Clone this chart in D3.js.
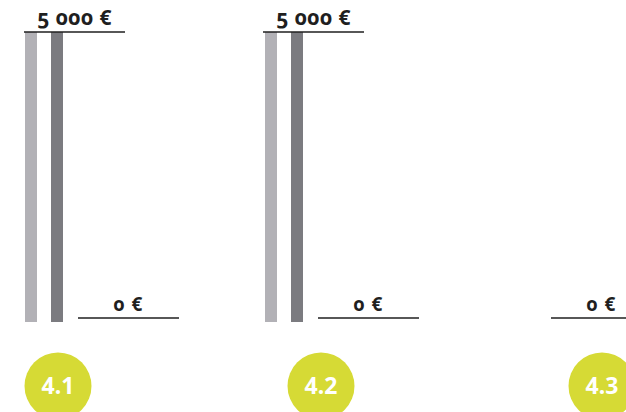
<!DOCTYPE html>
<html>
<head>
<meta charset="utf-8">
<script src="https://cdn.jsdelivr.net/npm/d3@7"></script>
<style>
  html, body { margin: 0; padding: 0; background: #ffffff; }
  svg { display: block; }
  text { font-family: "Noto Sans", "Open Sans", sans-serif; }
  text.tick { font-variant-numeric: oldstyle-nums; font-feature-settings: "onum" 1; }
  text.badge { font-variant-numeric: lining-nums; font-feature-settings: "lnum" 1; }
</style>
</head>
<body>
<svg id="chart" width="626" height="412"></svg>
<script>
// ---- data ----
const panels = ["4.1", "4.2", "4.3"];
const seriesNames = ["light", "dark"];
const lightValues = [5000, 5000, null];
const darkValues = [5000, 5000, null];
const showMaxTick = [true, true, false];
const tickValues = [0, 5000];
const tickLabels = ["0 €", "5 000 €"];

// ---- layout ----
const barLeft = [25, 265, null];
const topLineLeft = [24, 263, null];
const zeroLineLeft = [78, 318, 551];
const badgeCx = [58, 321, 602];
const lineLen = 101;
const colors = { light: "#b2b1b6", dark: "#7b7b80" };
const ink = "#1f1f1f";
const badgeColor = "#d6da35";

const svg = d3.select("#chart");
const y = d3.scaleLinear().domain([0, 5000]).range([318, 32]);

panels.forEach((p, i) => {
  const g = svg.append("g");
  const vals = { light: lightValues[i], dark: darkValues[i] };

  if (barLeft[i] !== null) {
    const x = d3.scaleBand().domain(seriesNames)
      .range([barLeft[i], barLeft[i] + 38])
      .paddingInner(14 / 26).paddingOuter(0);
    g.selectAll("rect.bar").data(seriesNames.filter(s => vals[s] != null))
      .enter().append("rect")
      .attr("class", "bar")
      .attr("x", s => x(s))
      .attr("width", x.bandwidth())
      .attr("y", s => y(vals[s]))
      .attr("height", s => y(0) + 4 - y(vals[s]))
      .attr("fill", s => colors[s]);
  }

  if (showMaxTick[i]) {
    const x0 = topLineLeft[i];
    g.append("line")
      .attr("x1", x0).attr("x2", x0 + lineLen)
      .attr("y1", y(tickValues[1])).attr("y2", y(tickValues[1]))
      .attr("stroke", ink).attr("stroke-width", 1.6);
    g.append("text")
      .attr("class", "tick")
      .attr("x", x0 + lineLen / 2)
      .attr("y", y(tickValues[1]) - 7)
      .attr("text-anchor", "middle")
      .attr("font-size", 21)
      .attr("font-weight", 700)
      .attr("letter-spacing", 0.4)
      .attr("fill", ink)
      .text(tickLabels[1]);
  }

  {
    const x0 = zeroLineLeft[i];
    g.append("line")
      .attr("x1", x0).attr("x2", x0 + lineLen)
      .attr("y1", y(tickValues[0])).attr("y2", y(tickValues[0]))
      .attr("stroke", ink).attr("stroke-width", 1.6);
    g.append("text")
      .attr("class", "tick")
      .attr("x", x0 + lineLen / 2)
      .attr("y", y(tickValues[0]) - 7.5)
      .attr("text-anchor", "middle")
      .attr("font-size", 19)
      .attr("font-weight", 700)
      .attr("letter-spacing", 1)
      .attr("fill", ink)
      .text(tickLabels[0]);
  }

  g.append("circle")
    .attr("cx", badgeCx[i]).attr("cy", 386).attr("r", 33.5)
    .attr("fill", badgeColor);
  g.append("text")
    .attr("class", "badge")
    .attr("x", badgeCx[i]).attr("y", 394)
    .attr("text-anchor", "middle")
    .attr("font-size", 23)
    .attr("font-weight", 700)
    .attr("fill", "#ffffff")
    .text(p);
});
</script>
</body>
</html>
